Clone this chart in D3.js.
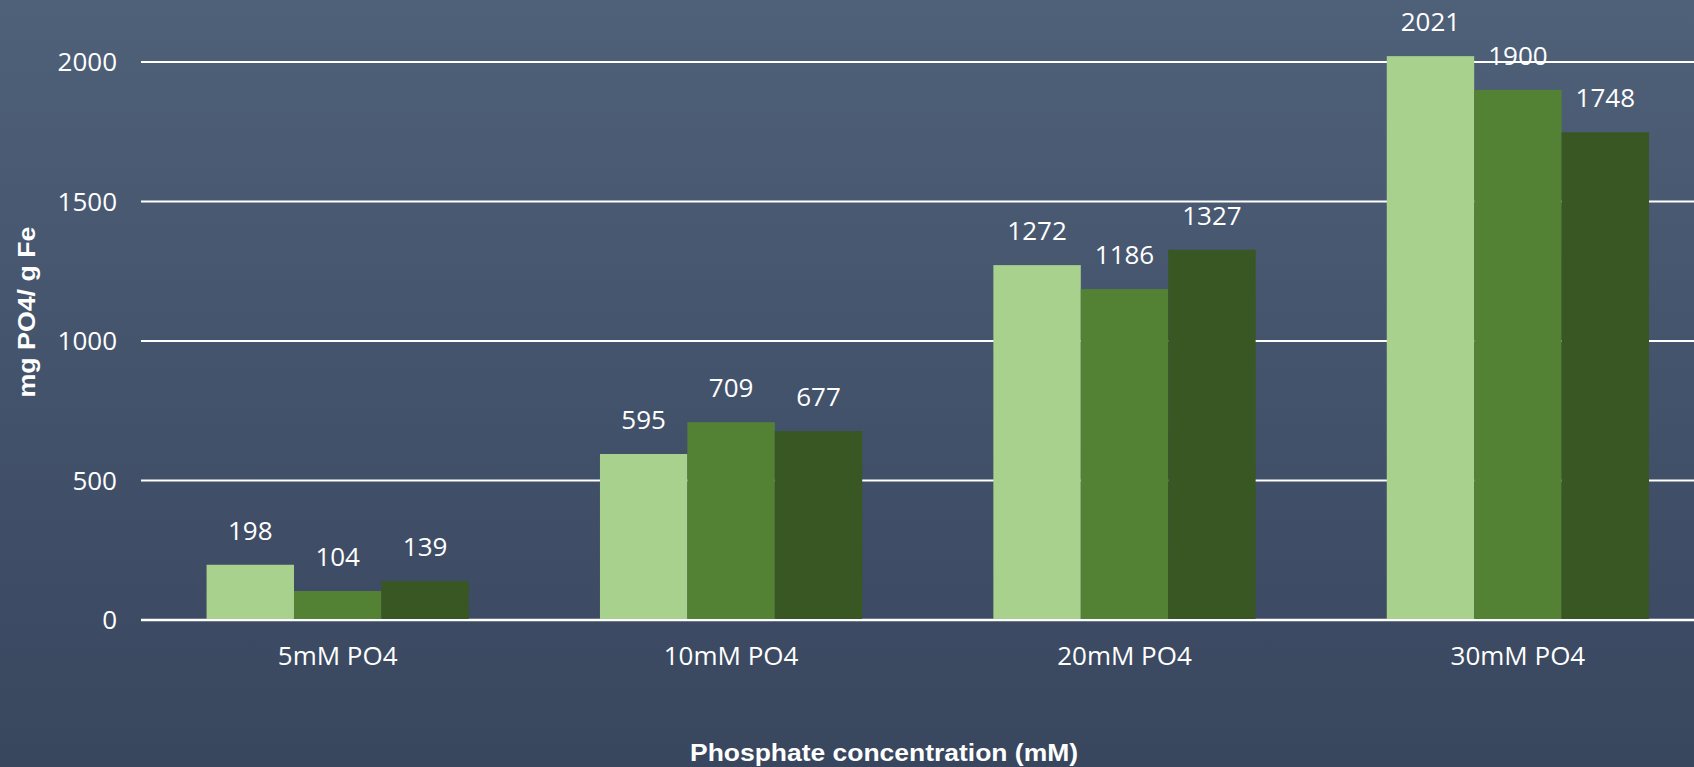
<!DOCTYPE html>
<html>
<head>
<meta charset="utf-8">
<script src="https://cdn.jsdelivr.net/npm/d3@7"></script>
<style>
  html, body { margin: 0; padding: 0; overflow: hidden; }
  #chart { width: 1694px; height: 767px; }
  .tick-label, .cat-label, .value-label { font-family: 'Open Sans', sans-serif; fill: #ffffff; font-size: 26px; }
  .axis-title { font-family: 'Liberation Sans', Arial, sans-serif; font-weight: bold; fill: #ffffff; font-size: 23px; }
</style>
</head>
<body>
<div id="chart"></div>
<script>
const categories = ['5mM PO4', '10mM PO4', '20mM PO4', '30mM PO4'];
const seriesA = [198, 595, 1272, 2021];
const seriesB = [104, 709, 1186, 1900];
const seriesC = [139, 677, 1327, 1748];
const yTicks = [0, 500, 1000, 1500, 2000];
const colors = ['#a9d18e', '#548235', '#385723'];

const series = [seriesA, seriesB, seriesC];

const width = 1694;
const height = 767;

const svg = d3
  .select('#chart')
  .append('svg')
  .attr('width', width)
  .attr('height', height);

// background gradient
const grad = svg
  .append('defs')
  .append('linearGradient')
  .attr('id', 'bg')
  .attr('x1', 0)
  .attr('y1', 0)
  .attr('x2', 0)
  .attr('y2', 1);
grad.append('stop').attr('offset', '0%').attr('stop-color', '#4f6079');
grad.append('stop').attr('offset', '100%').attr('stop-color', '#38465e');

svg
  .append('rect')
  .attr('width', width)
  .attr('height', height)
  .attr('fill', 'url(#bg)');

const xScale = d3
  .scaleBand()
  .domain(categories)
  .range([141, 141 + 4 * 393.4])
  .paddingInner(1 / 3)
  .paddingOuter(1 / 6);

const xSub = d3
  .scaleBand()
  .domain(d3.range(series.length))
  .range([0, xScale.bandwidth()]);

const yScale = d3.scaleLinear().domain([0, 2000]).range([620, 62]);

// gridlines
svg
  .selectAll('line.grid')
  .data(yTicks)
  .join('line')
  .attr('class', 'grid')
  .attr('x1', 141)
  .attr('x2', width)
  .attr('y1', (d) => yScale(d))
  .attr('y2', (d) => yScale(d))
  .attr('stroke', '#ffffff')
  .attr('stroke-width', (d) => (d === 0 ? 2.5 : 1.8));

// y tick labels
svg
  .selectAll('text.tick-label')
  .data(yTicks)
  .join('text')
  .attr('class', 'tick-label')
  .attr('x', 117)
  .attr('y', (d) => yScale(d))
  .attr('dy', '0.36em')
  .attr('text-anchor', 'end')
  .text((d) => d);

// bars
const rows = [];
categories.forEach((c, i) => {
  series.forEach((s, j) => {
    rows.push({ cat: c, idx: j, value: s[i] });
  });
});

svg
  .selectAll('rect.bar')
  .data(rows)
  .join('rect')
  .attr('class', 'bar')
  .attr('x', (d) => xScale(d.cat) + xSub(d.idx))
  .attr('y', (d) => yScale(d.value))
  .attr('width', xSub.bandwidth())
  .attr('height', (d) => yScale(0) - yScale(d.value) - 1)
  .attr('fill', (d) => colors[d.idx]);

// value labels
svg
  .selectAll('text.value-label')
  .data(rows)
  .join('text')
  .attr('class', 'value-label')
  .attr('x', (d) => xScale(d.cat) + xSub(d.idx) + xSub.bandwidth() / 2)
  .attr('y', (d) => yScale(d.value) - 25)
  .attr('text-anchor', 'middle')
  .text((d) => d.value);

// category labels
svg
  .selectAll('text.cat-label')
  .data(categories)
  .join('text')
  .attr('class', 'cat-label')
  .attr('x', (d) => xScale(d) + xScale.bandwidth() / 2)
  .attr('y', yScale(0) + 45)
  .attr('text-anchor', 'middle')
  .text((d) => d);

// axis titles (the original is stretched a bit wide)
svg
  .append('text')
  .attr('class', 'axis-title')
  .attr('x', 884)
  .attr('y', 761)
  .attr('text-anchor', 'middle')
  .attr('textLength', 388)
  .attr('lengthAdjust', 'spacingAndGlyphs')
  .text('Phosphate concentration (mM)');
svg
  .append('text')
  .attr('class', 'axis-title')
  .attr('transform', 'translate(35, 312) rotate(-90)')
  .attr('text-anchor', 'middle')
  .attr('textLength', 171)
  .attr('lengthAdjust', 'spacingAndGlyphs')
  .text('mg PO4/ g Fe');
</script>
</body>
</html>
